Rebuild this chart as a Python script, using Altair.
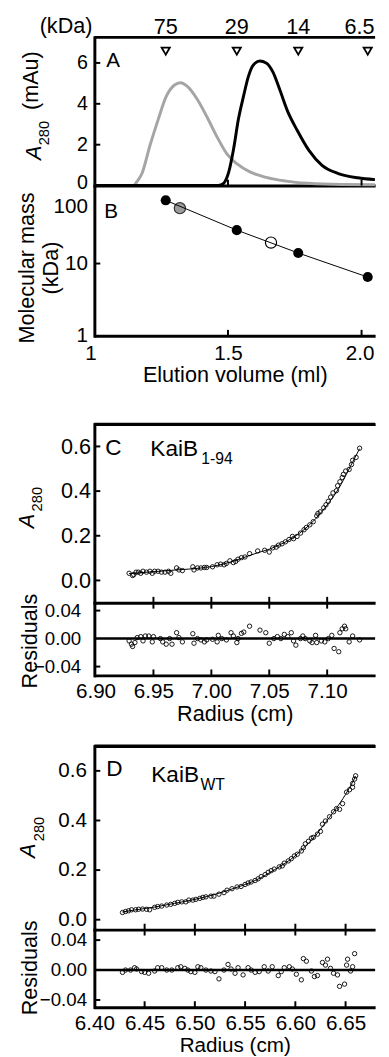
import altair as alt
import pandas as pd

FONT = "Liberation Sans"

# ---------------- Panel A : elution profiles ----------------
gray_vol = [1.000, 1.100, 1.147, 1.159, 1.178, 1.208, 1.239, 1.269, 1.300, 1.322, 1.349, 1.386,
            1.423, 1.460, 1.496, 1.533, 1.582, 1.643, 1.717, 1.801, 1.925, 2.050]
gray_abs = [0.0, 0.0, 0.0, 0.19, 0.59, 1.96, 3.24, 4.36, 4.92, 5.03, 4.84, 4.20,
            3.32, 2.36, 1.55, 1.07, 0.67, 0.40, 0.22, 0.11, 0.05, 0.04]
black_vol = [1.000, 1.300, 1.460, 1.472, 1.484, 1.503, 1.521, 1.539, 1.558, 1.576, 1.594, 1.619,
             1.643, 1.668, 1.692, 1.723, 1.760, 1.803, 1.852, 1.913, 1.986, 2.050]
black_abs = [0.0, 0.0, 0.0, 0.03, 0.11, 0.67, 1.79, 3.24, 4.36, 5.32, 5.88, 6.09,
             6.00, 5.56, 4.76, 3.64, 2.68, 1.72, 0.99, 0.59, 0.38, 0.29]

# ---------------- Panel B : calibration ----------------
std_label = ["75", "29", "14", "6.5"]
std_mass = [75, 29, 14, 6.5]
std_vol = [1.267, 1.533, 1.763, 2.023]
gray_sample_vol = [1.320]
gray_sample_mass = [58.4]
open_sample_vol = [1.661]
open_sample_mass = [19.5]

# ---------------- Panel C : KaiB 1-94 ----------------
c_r = [6.929, 6.932, 6.933, 6.935, 6.937, 6.939, 6.941, 6.944, 6.947, 6.949, 6.951, 6.954,
       6.957, 6.960, 6.963, 6.965, 6.970, 6.972, 6.975, 6.984, 6.985, 6.988, 6.991, 6.994,
       6.996, 7.001, 7.005, 7.008, 7.011, 7.013, 7.016, 7.019, 7.021, 7.023, 7.026, 7.029,
       7.033, 7.040, 7.046, 7.050, 7.053, 7.056, 7.058, 7.061, 7.064, 7.067, 7.070, 7.071,
       7.074, 7.077, 7.080, 7.082, 7.085, 7.088, 7.091, 7.092, 7.094, 7.097, 7.099, 7.101,
       7.103, 7.105, 7.108, 7.109, 7.111, 7.113, 7.114, 7.116, 7.119, 7.121, 7.122, 7.125, 7.128]
c_a = [0.032, 0.022, 0.026, 0.037, 0.037, 0.032, 0.041, 0.037, 0.041, 0.032, 0.041, 0.041,
       0.037, 0.037, 0.041, 0.032, 0.056, 0.047, 0.044, 0.061, 0.047, 0.056, 0.056, 0.058,
       0.058, 0.061, 0.070, 0.073, 0.070, 0.076, 0.088, 0.080, 0.085, 0.095, 0.102, 0.105,
       0.120, 0.132, 0.135, 0.127, 0.146, 0.149, 0.158, 0.164, 0.173, 0.183, 0.197, 0.187,
       0.197, 0.212, 0.227, 0.237, 0.249, 0.263, 0.289, 0.300, 0.307, 0.325, 0.339, 0.354,
       0.373, 0.392, 0.402, 0.424, 0.442, 0.461, 0.475, 0.490, 0.497, 0.519, 0.538, 0.551, 0.592]
c_fit_r = [6.929, 6.95, 6.97, 6.99, 7.00, 7.01, 7.02, 7.03, 7.04, 7.05, 7.06, 7.07, 7.08,
           7.09, 7.10, 7.11, 7.12, 7.128]
c_fit_a = [0.031, 0.039, 0.047, 0.055, 0.062, 0.073, 0.088, 0.106, 0.124, 0.140, 0.162, 0.190,
           0.227, 0.276, 0.338, 0.412, 0.510, 0.590]
cres_r = [6.929, 6.931, 6.932, 6.934, 6.936, 6.939, 6.941, 6.943, 6.946, 6.949, 6.950, 6.956,
          6.958, 6.961, 6.964, 6.966, 6.970, 6.972, 6.975, 6.984, 6.985, 6.988, 6.991, 6.994,
          6.996, 7.001, 7.005, 7.006, 7.009, 7.013, 7.017, 7.019, 7.022, 7.023, 7.026, 7.028,
          7.033, 7.042, 7.047, 7.050, 7.054, 7.057, 7.060, 7.063, 7.066, 7.069, 7.071, 7.073,
          7.077, 7.079, 7.081, 7.085, 7.087, 7.090, 7.091, 7.095, 7.098, 7.101, 7.104, 7.106,
          7.110, 7.111, 7.113, 7.115, 7.116, 7.119, 7.122, 7.128]
cres_v = [-0.0033, -0.0080, -0.0113, -0.0057, 0.0014, 0.0028, -0.0033, 0.0037, 0.0037, -0.0047,
          0.0028, 0.0000, -0.0047, -0.0080, 0.0000, -0.0080, 0.0084, 0.0014, -0.0047, 0.0070,
          -0.0066, 0.0000, -0.0019, -0.0047, -0.0019, -0.0010, -0.0047, 0.0046, 0.0000, -0.0019,
          0.0084, 0.0037, -0.0057, 0.0000, 0.0074, 0.0093, 0.0177, 0.0121, 0.0084, -0.0066,
          0.0000, 0.0028, 0.0000, 0.0060, 0.0028, 0.0084, -0.0033, -0.0094, 0.0000, 0.0037,
          0.0000, -0.0033, -0.0057, 0.0046, -0.0057, -0.0033, -0.0047, 0.0000, 0.0046, -0.0141,
          -0.0188, 0.0084, 0.0140, 0.0177, 0.0140, -0.0047, 0.0037, -0.0019]

# ---------------- Panel D : KaiB WT ----------------
d_r = [6.428, 6.431, 6.434, 6.437, 6.441, 6.444, 6.448, 6.452, 6.455, 6.460, 6.463, 6.467,
       6.472, 6.476, 6.480, 6.483, 6.487, 6.491, 6.494, 6.498, 6.501, 6.505, 6.508, 6.511,
       6.516, 6.519, 6.524, 6.529, 6.532, 6.537, 6.542, 6.546, 6.550, 6.553, 6.556, 6.560,
       6.563, 6.566, 6.570, 6.573, 6.576, 6.579, 6.584, 6.587, 6.589, 6.593, 6.596, 6.599,
       6.602, 6.606, 6.608, 6.610, 6.613, 6.616, 6.618, 6.622, 6.625, 6.627, 6.630, 6.634,
       6.638, 6.641, 6.644, 6.647, 6.651, 6.654, 6.657, 6.657, 6.659, 6.660]
d_a = [0.029, 0.033, 0.036, 0.040, 0.040, 0.042, 0.043, 0.042, 0.040, 0.050, 0.053, 0.055,
       0.059, 0.062, 0.066, 0.070, 0.072, 0.072, 0.079, 0.079, 0.082, 0.086, 0.090, 0.092,
       0.095, 0.095, 0.103, 0.109, 0.119, 0.125, 0.132, 0.134, 0.142, 0.148, 0.152, 0.158,
       0.165, 0.174, 0.182, 0.191, 0.198, 0.204, 0.213, 0.217, 0.228, 0.237, 0.246, 0.257,
       0.264, 0.277, 0.290, 0.306, 0.316, 0.329, 0.332, 0.345, 0.356, 0.385, 0.398, 0.415,
       0.435, 0.448, 0.445, 0.468, 0.514, 0.524, 0.534, 0.549, 0.567, 0.580]
d_fit_r = [6.428, 6.44, 6.46, 6.48, 6.50, 6.52, 6.54, 6.56, 6.58, 6.60, 6.61, 6.62, 6.63,
           6.64, 6.65, 6.66]
d_fit_a = [0.031, 0.039, 0.051, 0.066, 0.082, 0.102, 0.128, 0.158, 0.203, 0.258, 0.296, 0.338,
           0.392, 0.445, 0.505, 0.578]
dres_r = [6.428, 6.431, 6.436, 6.440, 6.442, 6.447, 6.450, 6.454, 6.460, 6.463, 6.467, 6.472,
          6.477, 6.483, 6.486, 6.490, 6.493, 6.496, 6.500, 6.503, 6.506, 6.511, 6.516, 6.520,
          6.524, 6.529, 6.533, 6.536, 6.540, 6.543, 6.548, 6.553, 6.556, 6.560, 6.564, 6.569,
          6.573, 6.577, 6.583, 6.586, 6.589, 6.594, 6.597, 6.601, 6.606, 6.608, 6.611, 6.616,
          6.619, 6.622, 6.627, 6.630, 6.632, 6.635, 6.638, 6.642, 6.644, 6.649, 6.651, 6.652,
          6.655, 6.657, 6.659]
dres_v = [-0.0031, 0.0000, 0.0000, 0.0031, 0.0014, -0.0021, -0.0031, -0.0043, -0.0013, 0.0031,
          0.0031, 0.0000, 0.0000, 0.0031, 0.0044, 0.0022, 0.0000, -0.0021, -0.0031, 0.0044,
          0.0031, 0.0000, -0.0013, -0.0021, -0.0118, 0.0000, 0.0075, 0.0014, -0.0043, 0.0031,
          -0.0065, 0.0031, 0.0000, -0.0031, -0.0021, 0.0044, -0.0013, 0.0044, -0.0074, -0.0021,
          0.0031, 0.0044, 0.0014, -0.0056, -0.0131, 0.0153, 0.0118, -0.0013, -0.0087, -0.0074,
          0.0101, 0.0066, 0.0145, 0.0022, -0.0043, -0.0065, -0.0218, -0.0188, 0.0066, 0.0145,
          -0.0013, 0.0044, 0.0219]

# ---------------- tick values ----------------
a_yticks = [0, 2, 4, 6]
ab_xticks = [1.0, 1.5, 2.0]
ab_inner_xticks = [1.5, 2.0]
b_yticks = [1, 10, 100]
b_inner_yticks = [10]
up_yticks = [0.0, 0.2, 0.4, 0.6]
res_yticks = [-0.04, 0.0, 0.04]
res_inner_yticks = [-0.04, 0.04]
res_zero = [0.0]
c_xticks = [6.90, 6.95, 7.00, 7.05, 7.10]
c_inner_xticks = [6.95, 7.00, 7.05, 7.10]
d_xticks = [6.40, 6.45, 6.50, 6.55, 6.60, 6.65]
d_inner_xticks = [6.45, 6.50, 6.55, 6.60, 6.65]

# ---------------- helpers ----------------
ONE = pd.DataFrame({"k": [0]})
W = 286


def ax(xaxis=False, **kw):
    base = dict(grid=False, domainColor="black", domainWidth=3,
                domainCap="butt" if xaxis else "square",
                labelColor="black", labelFont=FONT, titleFont=FONT, titleColor="black",
                title=None, labelFlush=False, labelOverlap=False, ticks=False)
    base.update(kw)
    return alt.Axis(**base)


def label(text, x, y, size=22, angle=0, align="left", baseline="alphabetic", style="normal"):
    return alt.Chart(ONE).mark_text(text=text, font=FONT, fontSize=size, angle=angle, align=align,
                                    baseline=baseline, fontStyle=style, color="black").encode(
        x=alt.value(x), y=alt.value(y))


def yticks(vals, scale, axis, length=6):
    return alt.Chart(pd.DataFrame({"t": vals})).mark_rule(color="black", strokeWidth=2).encode(
        y=alt.Y("t:Q", scale=scale, axis=axis), x=alt.value(0), x2=alt.value(length))


def xticks(vals, scale, axis, y0, y1):
    return alt.Chart(pd.DataFrame({"t": vals})).mark_rule(color="black", strokeWidth=2).encode(
        x=alt.X("t:Q", scale=scale, axis=axis), y=alt.value(y0), y2=alt.value(y1))


def top_line():
    # frame line along the top edge of the plot (spans the full width)
    return alt.Chart(ONE).mark_rule(color="black", strokeWidth=3).encode(y=alt.value(0))


def spacer(h):
    # empty gap; its bottom axis line doubles as the top frame of the panel below
    return alt.Chart(ONE).mark_point(opacity=0).encode(
        x=alt.X("k:Q", axis=ax(xaxis=True, labels=False)),
        y=alt.Y("k:Q", axis=None)).properties(width=W, height=h)


# ---------------- Panel A ----------------
H_A, H_B = 151, 153
xAB = alt.Scale(domain=[1.0, 2.0507], nice=False, zero=False)
yA = alt.Scale(domain=[0, 7.25], nice=False, zero=False)
yB = alt.Scale(type="log", domain=[1, 120], nice=False)

axA_x = ax(xaxis=True, labels=False)
axA_y = ax(values=a_yticks, labelFontSize=20, labelPadding=7,
           labelOffset={"condition": {"test": "datum.value == 0", "value": -3}, "value": 0})

df_std = pd.DataFrame({"v": std_vol, "m": std_mass, "lab": std_label})

a_gray = alt.Chart(pd.DataFrame({"v": gray_vol, "a": gray_abs})).mark_line(
    color="#a5a5a5", strokeWidth=3, interpolate="monotone").encode(
    x=alt.X("v:Q", scale=xAB, axis=axA_x), y=alt.Y("a:Q", scale=yA, axis=axA_y))
a_black = alt.Chart(pd.DataFrame({"v": black_vol, "a": black_abs})).mark_line(
    color="black", strokeWidth=3, interpolate="monotone").encode(
    x=alt.X("v:Q", scale=xAB, axis=axA_x), y=alt.Y("a:Q", scale=yA, axis=axA_y))
a_tri = alt.Chart(df_std).mark_point(shape="triangle-down", filled=False, color="black",
                                     strokeWidth=1.8, size=70, opacity=1).encode(
    x=alt.X("v:Q", scale=xAB, axis=axA_x), y=alt.value(14))
a_top = alt.Chart(df_std.iloc[:3]).mark_text(font=FONT, fontSize=22, baseline="alphabetic",
                                             color="black").encode(
    x=alt.X("v:Q", scale=xAB, axis=axA_x), y=alt.value(-3), text="lab:N")
a_top_last = alt.Chart(df_std.iloc[3:]).mark_text(font=FONT, fontSize=22, baseline="alphabetic",
                                                  align="right", dx=7, color="black").encode(
    x=alt.X("v:Q", scale=xAB, axis=axA_x), y=alt.value(-3), text="lab:N")

panelA = alt.layer(
    a_gray, a_black, a_tri, a_top, a_top_last,
    yticks(a_yticks, yA, axA_y), xticks(ab_inner_xticks, xAB, axA_x, H_A, H_A - 6), top_line(),
    label("(kDa)", -2, -4, align="right"),
    label("A", 12, 30, size=21),
    label("A", -54, 125, angle=270, style="italic"),
    label("280", -46, 110, size=15, angle=270),
    label("(mAu)", -57, 74, angle=270),
).properties(width=W, height=H_A)

# ---------------- Panel B ----------------
axB_x = ax(xaxis=True, values=ab_xticks, labelFontSize=21, labelPadding=7,
           labelExpr="datum.value == 1 ? '1' : format(datum.value, '.1f')",
           labelOffset={"condition": [{"test": "datum.value == 1", "value": -4},
                                      {"test": "datum.value == 2", "value": -2}], "value": 0},
           title="Elution volume (ml)", titleFontSize=22, titlePadding=2, titleFontWeight="normal")
axB_y = ax(values=b_yticks, format="d", labelFontSize=21, labelPadding=7,
           labelOffset={"condition": {"test": "datum.value == 100", "value": 16}, "value": 0})

b_gray = alt.Chart(pd.DataFrame({"v": gray_sample_vol, "m": gray_sample_mass})).mark_point(
    filled=True, fill="#9c9c9c", stroke="#333333", strokeWidth=1.2, size=130, opacity=1).encode(
    x=alt.X("v:Q", scale=xAB, axis=axB_x), y=alt.Y("m:Q", scale=yB, axis=axB_y))
b_open = alt.Chart(pd.DataFrame({"v": open_sample_vol, "m": open_sample_mass})).mark_point(
    filled=False, color="black", strokeWidth=1.2, size=130, opacity=1).encode(
    x=alt.X("v:Q", scale=xAB, axis=axB_x), y=alt.Y("m:Q", scale=yB, axis=axB_y))
b_line = alt.Chart(df_std).mark_line(color="black", strokeWidth=1).encode(
    x=alt.X("v:Q", scale=xAB, axis=axB_x), y=alt.Y("m:Q", scale=yB, axis=axB_y))
b_std = alt.Chart(df_std).mark_point(filled=True, color="black", size=105, opacity=1).encode(
    x=alt.X("v:Q", scale=xAB, axis=axB_x), y=alt.Y("m:Q", scale=yB, axis=axB_y))

panelB = alt.layer(
    b_gray, b_open, b_line, b_std,
    yticks(b_inner_yticks, yB, axB_y), xticks(ab_inner_xticks, xAB, axB_x, H_B, H_B - 6),
    label("B", 10, 33, size=21),
    label("Molecular mass", -62, 84, angle=270, align="center"),
    label("(kDa)", -37, 84, angle=270, align="center"),
).properties(width=W, height=H_B)


# ---------------- Panels C / D ----------------
def upper(r, a, fr, fa, xs, ys, h, ylab_size, ylab_pad, inner_x, letter, sub, pos):
    axx = ax(xaxis=True, labels=False)
    axy = ax(values=up_yticks, format=".1f", labelFontSize=ylab_size, labelPadding=ylab_pad)
    pts = alt.Chart(pd.DataFrame({"r": r, "a": a})).mark_point(
        filled=False, color="black", strokeWidth=0.9, size=20, opacity=1).encode(
        x=alt.X("r:Q", scale=xs, axis=axx), y=alt.Y("a:Q", scale=ys, axis=axy))
    fit = alt.Chart(pd.DataFrame({"r": fr, "a": fa})).mark_line(
        color="black", strokeWidth=1, interpolate="monotone").encode(
        x=alt.X("r:Q", scale=xs, axis=axx), y=alt.Y("a:Q", scale=ys, axis=axy))
    return alt.layer(
        pts, fit, yticks(up_yticks, ys, axy), xticks(inner_x, xs, axx, h, h - 6), top_line(),
        label(letter, pos["lx"], pos["ly"], size=23),
        label("KaiB", pos["kx"], pos["ky"], size=23),
        label(sub, pos["sx"], pos["sy"], size=16),
        label("A", pos["ax"], pos["ay"], angle=270, style="italic"),
        label("280", pos["ax"] + 9, pos["ay"] - 17, size=15, angle=270),
    ).properties(width=W, height=h)


def resid(r, v, xs, ys, h, xvals, inner_x, ylab_pad, xlab_pad, tpad, tsize, title_y):
    axx = ax(xaxis=True, values=xvals, format=".2f", labelFontSize=21, labelPadding=xlab_pad,
             title="Radius (cm)", titleFontSize=tsize, titlePadding=tpad, titleFontWeight="normal")
    axy = ax(values=res_yticks, format=".2f", labelFontSize=19, labelPadding=ylab_pad)
    pts = alt.Chart(pd.DataFrame({"r": r, "v": v})).mark_point(
        filled=False, color="black", strokeWidth=0.9, size=20, opacity=1).encode(
        x=alt.X("r:Q", scale=xs, axis=axx), y=alt.Y("v:Q", scale=ys, axis=axy))
    zero = alt.Chart(pd.DataFrame({"z": res_zero})).mark_rule(color="black", strokeWidth=2.5).encode(
        y=alt.Y("z:Q", scale=ys, axis=axy))
    return alt.layer(
        pts, zero, yticks(res_inner_yticks, ys, axy),
        xticks(inner_x, xs, axx, 0, 6), xticks(inner_x, xs, axx, h, h - 6),
        label("Residuals", -58, title_y, angle=270, align="center"),
    ).properties(width=W, height=h)


H_C1, H_C2, H_D1, H_D2 = 182, 74, 187, 79
xC = alt.Scale(domain=[6.899, 7.1414], nice=False, zero=False)
yC1 = alt.Scale(domain=[-0.10, 0.70], nice=False, zero=False)
yC2 = alt.Scale(domain=[-0.0526, 0.0512], nice=False, zero=False)
xD = alt.Scale(domain=[6.40, 6.6794], nice=False, zero=False)
yD1 = alt.Scale(domain=[-0.04, 0.70], nice=False, zero=False)
yD2 = alt.Scale(domain=[-0.0496, 0.054], nice=False, zero=False)

panelC1 = upper(c_r, c_a, c_fit_r, c_fit_a, xC, yC1, H_C1, 22, 4, c_inner_xticks, "C", "1-94",
                dict(lx=11, ly=31, kx=57, ky=32, sx=109, sy=41, ax=-62, ay=106))
panelC2 = resid(cres_r, cres_v, xC, yC2, H_C2, c_xticks, c_inner_xticks, 14, 6, 2, 22, 39)
panelD1 = upper(d_r, d_a, d_fit_r, d_fit_a, xD, yD1, H_D1, 21, 8, d_inner_xticks, "D", "WT",
                dict(lx=12, ly=30, kx=58, ky=37, sx=108, sy=45, ax=-60, ay=114))
panelD2 = resid(dres_r, dres_v, xD, yD2, H_D2, d_xticks, d_inner_xticks, 8, 6, 1, 21, 39)

chart = alt.vconcat(
    panelA, panelB, spacer(90), panelC1, panelC2, spacer(72), panelD1, panelD2,
    spacing=0, bounds="flush",
).properties(
    padding={"left": 8, "top": -2, "right": 0, "bottom": 0}
).configure_view(stroke=None)

chart.save("out.html", embed_options={"renderer": "svg", "actions": False})
